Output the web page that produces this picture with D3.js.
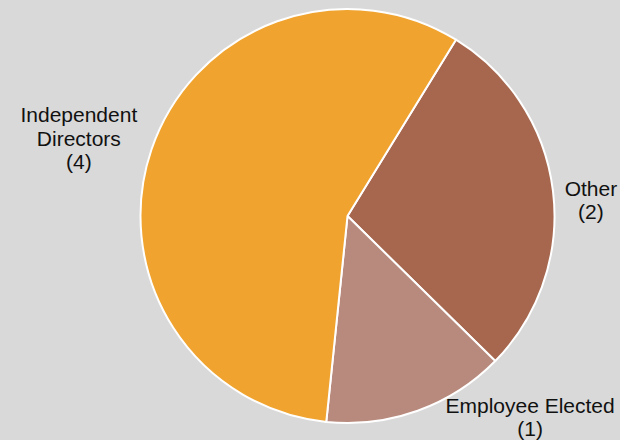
<!DOCTYPE html>
<html>
<head>
<meta charset="utf-8">
<script src="https://cdn.jsdelivr.net/npm/d3@7"></script>
<style>
  html, body { margin: 0; padding: 0; background: #d9d9d9; }
  svg { display: block; }
  text { font-family: "Liberation Sans", Arial, sans-serif; }
</style>
</head>
<body>
<svg id="chart" width="620" height="440"></svg>
<script>
// Board composition
const categories = ["Other", "Employee Elected", "Independent Directors"];
const labelLines = [["Other"], ["Employee Elected"], ["Independent", "Directors"]];
const counts = [2, 1, 4];
const colors = ["#a6674e", "#b88a7d", "#f0a42f"];

const width = 620, height = 440;
const cx = 347.5, cy = 216, radius = 207;

const svg = d3.select("#chart");
svg.append("rect").attr("width", width).attr("height", height).attr("fill", "#d9d9d9");

const data = categories.map((c, i) => ({ name: c, lines: labelLines[i], value: counts[i], color: colors[i] }));

// first slice starts a little past 12 o'clock, going clockwise
const startDeg = 31.6;
const pie = d3.pie()
  .value(d => d.value)
  .sort(null)
  .startAngle(startDeg * Math.PI / 180)
  .endAngle((startDeg + 360) * Math.PI / 180);

const arcs = pie(data);
const arc = d3.arc().innerRadius(0).outerRadius(radius);

const g = svg.append("g").attr("transform", `translate(${cx},${cy})`);

g.selectAll("path.slice")
  .data(arcs)
  .join("path")
  .attr("class", "slice")
  .attr("d", arc)
  .attr("fill", d => d.data.color)
  .attr("stroke", "#ffffff")
  .attr("stroke-width", 2)
  .attr("stroke-linejoin", "round");

// labels sit just outside the rim, nudged clear of the pie
const labelNudge = {
  "Other": [31, 10],
  "Employee Elected": [110, 0],
  "Independent Directors": [-66, -9]
};
const lineH = 23.5;
const fontSize = 21;

arcs.forEach(a => {
  const mid = (a.startAngle + a.endAngle) / 2;
  const rr = radius + 7;
  const ax = Math.sin(mid) * rr;
  const ay = -Math.cos(mid) * rr;
  const nudge = labelNudge[a.data.name];
  const lx = ax + nudge[0];
  const ly = ay + nudge[1];
  const lines = a.data.lines.concat([`(${a.data.value})`]);
  const top = ly - (lines.length - 1) * lineH / 2;
  const t = g.append("text")
    .attr("text-anchor", "middle")
    .attr("font-size", fontSize)
    .attr("fill", "#111");
  lines.forEach((s, i) => {
    t.append("tspan")
      .attr("x", lx)
      .attr("y", top + i * lineH)
      .attr("dy", "0.35em")
      .text(s);
  });
});
</script>
</body>
</html>
